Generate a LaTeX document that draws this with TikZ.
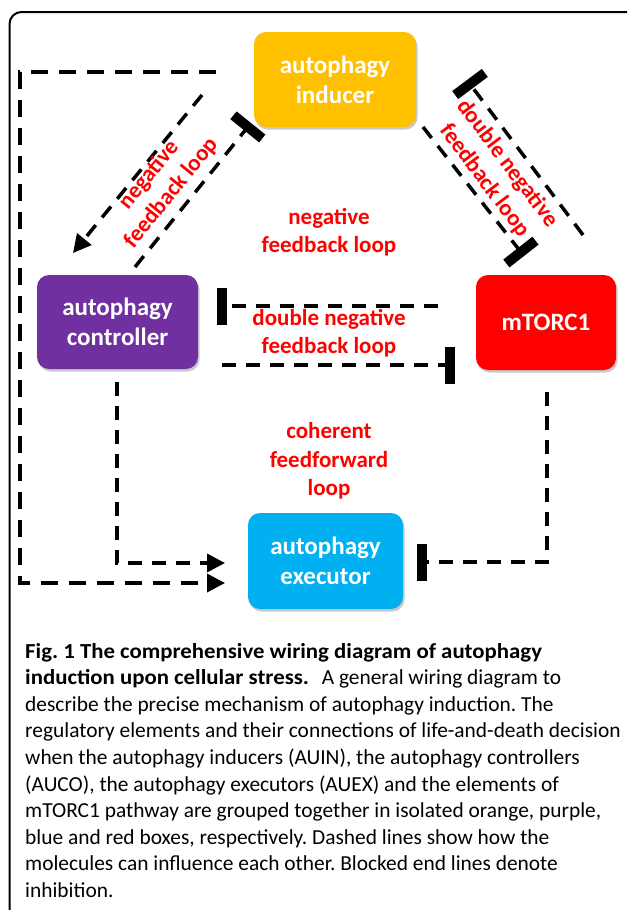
\documentclass[tikz,border=0pt]{standalone}
\usepackage{fontspec}
\setmainfont{Carlito}
\usetikzlibrary{arrows.meta,shadows}
\definecolor{cInd}{HTML}{FFC000}
\definecolor{cCtl}{HTML}{7030A0}
\definecolor{cMtor}{HTML}{FF0000}
\definecolor{cExe}{HTML}{00B0F0}
\definecolor{cLbl}{HTML}{FF0000}
\newcommand{\capbold}[1]{\scalebox{1.065}[1]{\bfseries #1}}
\begin{document}
\frenchspacing
\begin{tikzpicture}[x=1pt,y=-1pt,
  box/.style={rounded corners=12pt, text=white, inner sep=0pt, align=center,
    font=\fontsize{25}{30}\selectfont\bfseries,
    drop shadow={shadow xshift=1.5pt,shadow yshift=-2.5pt,opacity=0.35,fill=black!60}},
  conn/.style={line width=3.5pt, dash pattern=on 14pt off 10pt},
  lbl/.style={text=cLbl, align=center, inner sep=0pt, font=\fontsize{23}{28.5}\selectfont\bfseries},
  act/.style={-{Triangle[length=18pt,width=18pt]}},
  inh/.style={-{Bar[width=37pt,line width=10pt]}},
  capline/.style={anchor=base west, inner sep=0pt, font=\fontsize{21.4}{26.6}\selectfont}
]
\clip (0,0) rectangle (627,910);
\draw[line width=2pt, rounded corners=12pt] (9.5,940) -- (9.5,12) -- (660,12);

% boxes
\node[box, fill=cInd, minimum width=162pt, minimum height=95pt] (ind) at (335,79.5) {autophagy\\inducer};
\node[box, fill=cCtl, minimum width=161pt, minimum height=94pt] (ctl) at (117.5,322) {autophagy\\controller};
\node[box, fill=cMtor, minimum width=140pt, minimum height=95pt] (mtor) at (546,322.5) {mTORC1};
\node[box, fill=cExe, minimum width=155pt, minimum height=96pt] (exe) at (325.5,561) {autophagy\\executor};

% connector end points
\coordinate (a0) at (216,72);
\coordinate (a1) at (20,72);
\coordinate (a2) at (20,583);
\coordinate (a3) at (225,583);
\coordinate (b0) at (117,382);
\coordinate (b1) at (117,563);
\coordinate (b2) at (225,563);
\coordinate (c0) at (202,95);
\coordinate (c1) at (73,253);
\coordinate (d0) at (135,267);
\coordinate (d1) at (251,123);
\coordinate (e0) at (423,127);
\coordinate (e1) at (524,256);
\coordinate (f0) at (583,235);
\coordinate (f1) at (467,80);
\coordinate (g0) at (438,306);
\coordinate (g1) at (217,306);
\coordinate (h0) at (222,365);
\coordinate (h1) at (455,365);
\coordinate (i0) at (547,392);
\coordinate (i1) at (547,562);
\coordinate (i2) at (417,562);

% connectors
\draw[conn, act, dash pattern=on 17pt off 11pt] (a0) -- (a1) -- (a2) -- (a3);
\draw[conn, act] (b0) -- (b1) -- (b2);
\draw[conn, act] (c0) -- (c1);
\draw[conn, inh] (d0) -- (d1);
\draw[conn, inh] (e0) -- (e1);
\draw[conn, inh] (f0) -- (f1);
\draw[conn, inh] (g0) -- (g1);
\draw[conn, inh] (h0) -- (h1);
\draw[conn, inh] (i0) -- (i1) -- (i2);

% labels
\node[lbl, rotate=51] (l1) at (160,184) {negative\\feedback loop};
\node[lbl] (l2) at (329,232) {negative\\feedback loop};
\node[lbl] (l3) at (329,333) {double negative\\feedback loop};
\node[lbl] (l4) at (329,461) {coherent\\feedforward\\loop};
\node[lbl, rotate=-53] (l5) at (496,172) {double negative\\feedback loop};

% caption
\node[capline] (cap1) at (25,658.0) {\capbold{Fig. 1 The comprehensive wiring diagram of autophagy}};
\node[capline] (cap2) at (25,684.6) {\capbold{induction upon cellular stress.}\hspace{0.6em}A general wiring diagram to};
\node[capline] (cap3) at (25,711.2) {describe the precise mechanism of autophagy induction. The};
\node[capline] (cap4) at (25,737.8) {regulatory elements and their connections of life-and-death decision};
\node[capline] (cap5) at (25,764.4) {when the autophagy inducers (AUIN), the autophagy controllers};
\node[capline] (cap6) at (25,791.0) {(AUCO), the autophagy executors (AUEX) and the elements of};
\node[capline] (cap7) at (25,817.6) {mTORC1 pathway are grouped together in isolated orange, purple,};
\node[capline] (cap8) at (25,844.2) {blue and red boxes, respectively. Dashed lines show how the};
\node[capline] (cap9) at (25,870.8) {molecules can influence each other. Blocked end lines denote};
\node[capline] (cap10) at (25,897.4) {inhibition.};
\end{tikzpicture}
\end{document}
